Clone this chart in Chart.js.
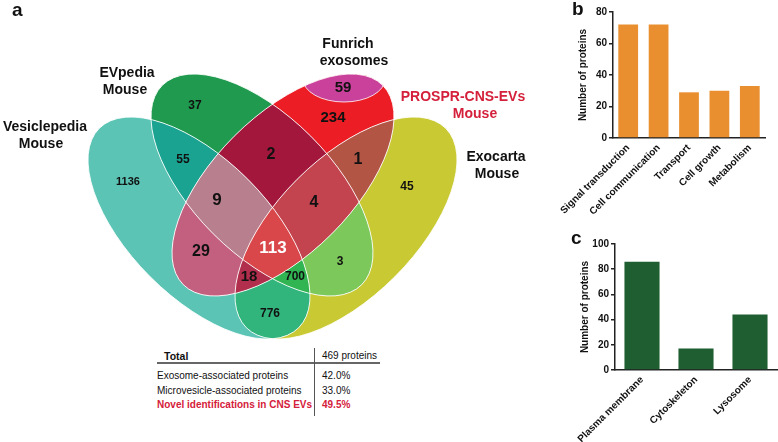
<!DOCTYPE html>
<html>
<head>
<meta charset="utf-8">
<script src="https://cdn.jsdelivr.net/npm/chart.js@4"></script>
<style>
  body { margin: 0; width: 778px; height: 442px; background: #fff; position: relative; overflow: hidden;
         font-family: "Liberation Sans", Arial, sans-serif; color: #111; }
  .box { position: absolute; }
  .lbl { position: absolute; transform: translate(-50%, -50%); font-weight: bold; font-size: 14px; white-space: nowrap; line-height: 16px; }
  .panel { position: absolute; font-weight: bold; font-size: 19px; line-height: 20px; }
  .t { position: absolute; font-size: 10px; line-height: 12px; white-space: nowrap; }
</style>
</head>
<body>
<div class="box" id="vennBox" style="left:0;top:0;width:530px;height:345px"><canvas id="venn"></canvas></div>
<div class="box" style="left:530px;top:0;width:248px;height:215px"><canvas id="chartB"></canvas></div>
<div class="box" style="left:530px;top:205px;width:248px;height:237px"><canvas id="chartC"></canvas></div>

<div class="panel" style="left:12px;top:0px">a</div>
<div class="panel" style="left:572px;top:-1px">b</div>
<div class="panel" style="left:571px;top:228px">c</div>

<div class="lbl" style="left:45px;top:126px">Vesiclepedia</div>
<div class="lbl" style="left:41px;top:143px">Mouse</div>
<div class="lbl" style="left:127px;top:72px">EVpedia</div>
<div class="lbl" style="left:125px;top:89px">Mouse</div>
<div class="lbl" style="left:348px;top:43px">Funrich</div>
<div class="lbl" style="left:354px;top:60px">exosomes</div>
<div class="lbl" style="left:463px;top:96px;color:#d5203b">PROSPR-CNS-EVs</div>
<div class="lbl" style="left:475px;top:113px;color:#d5203b">Mouse</div>
<div class="lbl" style="left:496px;top:156px">Exocarta</div>
<div class="lbl" style="left:497px;top:173px">Mouse</div>

<div id="table"></div>

<script>
// --- Venn (panel a) ---
const setNames = ['Vesiclepedia Mouse', 'EVpedia Mouse', 'PROSPR-CNS-EVs Mouse', 'Exocarta Mouse'];
// membership of each region: indexes into setNames
const regionSets = [[0], [1], [2], [3], [0, 1], [1, 2], [2, 3], [0, 1, 2], [1, 2, 3], [0, 1, 2, 3], [0, 2], [0, 2, 3], [0, 1, 3], [1, 3], [0, 3]];
const regionCounts = [1136, 37, 234, 45, 55, 2, 1, 9, 4, 113, 29, 18, 700, 3, 776];
const funrichCount = 59;

// --- bar panels ---
const funcLabels = ['Signal transduction', 'Cell communication', 'Transport', 'Cell growth', 'Metabolism'];
const funcValues = [72, 72, 29, 30, 33];
const locLabels = ['Plasma membrane', 'Cytoskeleton', 'Lysosome'];
const locValues = [86, 17, 44];

// --- table ---
const tableLabels = ['Exosome-associated proteins', 'Microvesicle-associated proteins', 'Novel identifications in CNS EVs'];
const tableValues = ['42.0%', '33.0%', '49.5%'];
const totalText = '469 proteins';

// layout / styling (pixels of the venn canvas)
const ellipses = [
  { cx: 199, cy: 228, a: 141, b: 69, rot: Math.PI / 4 },
  { cx: 262, cy: 185, a: 141, b: 69, rot: Math.PI / 4 },
  { cx: 283, cy: 185, a: 141, b: 69, rot: -Math.PI / 4 },
  { cx: 346, cy: 228, a: 141, b: 69, rot: -Math.PI / 4 }
];
const pinkEllipse = { cx: 344, cy: 79, a: 41, b: 23, rot: 0 };
const regionColors = ['#5bc4b4', '#1f9a4e', '#ec1d25', '#c9c934', '#1ba391', '#a3173d', '#b35545',
  '#b8808e', '#c3434f', '#d9474a', '#c4607f', '#b12e4c', '#30b552', '#7cc85a', '#31b57d'];
const regionPos = [[128, 182], [195, 106], [333, 118], [407, 187], [183, 160], [271, 155], [358, 160],
  [217, 200], [314, 203], [273, 248], [201, 252], [249, 277], [295, 277], [340, 262], [270, 314], [343, 88]];
const regionFont = [11, 12, 15, 12, 12, 16, 16, 17, 16, 17, 16, 15, 12, 12, 12, 15];
const FONT = '"Liberation Sans", Arial, sans-serif';

const vennPlugin = {
  id: 'venn',
  beforeDatasetsDraw(chart) {
    const { ctx, scales: { x, y } } = chart;
    const W = chart.width, H = chart.height;
    const s = Math.abs(x.getPixelForValue(1) - x.getPixelForValue(0));
    const ell = (e) => ctx.ellipse(x.getPixelForValue(e.cx), y.getPixelForValue(e.cy), e.a * s, e.b * s, e.rot, 0, Math.PI * 2);
    regionSets.forEach((inside, i) => {
      ctx.save();
      ellipses.forEach((e, k) => {
        ctx.beginPath();
        ell(e);
        if (inside.includes(k)) {
          ctx.clip();
        } else {
          ctx.rect(0, 0, W, H);
          ctx.clip('evenodd');
        }
      });
      ctx.fillStyle = regionColors[i];
      ctx.fillRect(0, 0, W, H);
      ctx.restore();
    });
    // Funrich exosomes cap inside PROSPR
    ctx.save();
    ctx.beginPath(); ell(ellipses[2]); ctx.clip();
    ctx.beginPath(); ell(pinkEllipse);
    ctx.fillStyle = '#c9419b';
    ctx.fill();
    ctx.strokeStyle = 'rgba(255,255,255,0.8)';
    ctx.lineWidth = 1;
    ctx.stroke();
    ctx.restore();
    ctx.save();
    ctx.strokeStyle = 'rgba(255,255,255,0.85)';
    ctx.lineWidth = 1;
    ellipses.forEach(e => { ctx.beginPath(); ell(e); ctx.stroke(); });
    ctx.restore();
  },
  afterDatasetsDraw(chart) {
    const { ctx } = chart;
    const pts = chart.getDatasetMeta(0).data;
    const counts = regionCounts.concat([funrichCount]);
    ctx.save();
    ctx.textAlign = 'center';
    ctx.textBaseline = 'middle';
    pts.forEach((p, i) => {
      ctx.font = 'bold ' + regionFont[i] + 'px ' + FONT;
      ctx.fillStyle = counts[i] === 113 ? '#ffffff' : '#111111';
      ctx.fillText(String(counts[i]), p.x, p.y);
    });
    ctx.restore();
  }
};

new Chart(document.getElementById('venn'), {
  type: 'scatter',
  data: {
    datasets: [{
      data: regionPos.map(p => ({ x: p[0], y: p[1] })),
      pointRadius: 0
    }]
  },
  options: {
    responsive: true,
    maintainAspectRatio: false,
    animation: false,
    layout: { padding: 0 },
    plugins: { legend: { display: false }, tooltip: { enabled: false } },
    scales: {
      x: { type: 'linear', min: 0, max: 530, display: false },
      y: { type: 'linear', min: 0, max: 345, reverse: true, display: false }
    }
  },
  plugins: [vennPlugin]
});

// bar panels
function barChart(id, labels, values, color, yMax, pad, xHeight) {
  return new Chart(document.getElementById(id), {
    type: 'bar',
    data: {
      labels: labels,
      datasets: [{
        data: values,
        backgroundColor: color,
        categoryPercentage: 1,
        barPercentage: 0.65
      }]
    },
    options: {
      responsive: true,
      maintainAspectRatio: false,
      animation: false,
      layout: { padding: pad },
      plugins: { legend: { display: false }, tooltip: { enabled: false } },
      scales: {
        x: {
          grid: { drawOnChartArea: false, drawTicks: false },
          border: { color: '#222', width: 1.5 },
          ticks: {
            autoSkip: false, minRotation: 45, maxRotation: 45, padding: 4,
            color: '#111', font: { family: FONT, size: 10, weight: 'bold' }
          },
          afterFit(s) { s.height = xHeight; }
        },
        y: {
          min: 0, max: yMax,
          grid: { drawOnChartArea: false, drawTicks: true, tickLength: 4, color: '#222', lineWidth: 1.5 },
          border: { color: '#222', width: 1.5 },
          ticks: { stepSize: 20, padding: 2, color: '#111', font: { family: FONT, size: 10, weight: 'bold' } },
          title: {
            display: true, text: 'Number of proteins', color: '#111',
            font: { family: FONT, size: 10, weight: 'bold' }, padding: { top: 47, bottom: 0 }
          },
          afterFit(s) { s.width = 83; }
        }
      }
    }
  });
}

barChart('chartB', funcLabels, funcValues, '#e98f2f', 80, { top: 12, right: 13, left: 0, bottom: 0 }, 77);
barChart('chartC', locLabels, locValues, '#1e5e30', 100, { top: 39, right: 1, left: 2, bottom: 0 }, 72);

// table under the venn
(function () {
  const t = document.getElementById('table');
  let html = '';
  html += '<div class="t" style="left:164px;top:350px;font-weight:bold;font-size:10.5px">Total</div>';
  html += '<div class="t" style="left:322px;top:350px">' + totalText + '</div>';
  html += '<div style="position:absolute;left:157px;top:362px;width:223px;height:1.5px;background:#666"></div>';
  html += '<div style="position:absolute;left:314px;top:348px;width:1px;height:68px;background:#555"></div>';
  const ys = [376, 391, 405];
  tableLabels.forEach((lab, i) => {
    const style = i === 2 ? 'font-weight:bold;color:#d5203b;' : '';
    html += '<div class="t" style="left:157px;top:' + (ys[i] - 6) + 'px;' + style + '">' + lab + '</div>';
    html += '<div class="t" style="left:322px;top:' + (ys[i] - 6) + 'px;' + style + '">' + tableValues[i] + '</div>';
  });
  t.innerHTML = html;
})();
</script>
</body>
</html>
